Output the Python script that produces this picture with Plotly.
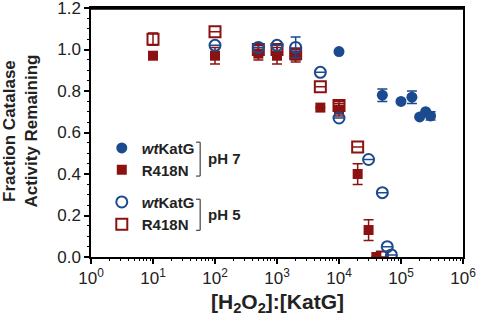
import plotly.graph_objects as go

BLUE = "#1B4A8E"
RED = "#8C1212"

# wtKatG pH 7 (filled circles)
wt7_x = [1e4, 5e4, 1e5, 1.5e5, 2e5, 2.5e5, 3e5]
wt7_y = [0.99, 0.78, 0.75, 0.77, 0.675, 0.70, 0.68]
wt7_e = [0.0, 0.03, 0.0, 0.03, 0.0, 0.0, 0.02]

# R418N pH 7 (filled squares)
r7_x = [10, 100, 500, 1000, 2000, 5000, 1e4, 2e4, 3e4, 4e4]
r7_y = [0.97, 0.97, 0.98, 0.97, 0.97, 0.72, 0.71, 0.40, 0.13, 0.0]
r7_e = [0.0, 0.04, 0.03, 0.04, 0.03, 0.0, 0.03, 0.05, 0.05, 0.0]

# wtKatG pH 5 (open circles)
wt5_x = [100, 500, 1000, 2000, 5000, 1e4, 3e4, 5e4, 6e4, 7e4]
wt5_y = [1.02, 1.01, 1.02, 1.01, 0.89, 0.67, 0.47, 0.31, 0.05, 0.01]
wt5_e = [0.0, 0.0, 0.0, 0.05, 0.0, 0.0, 0.0, 0.0, 0.0, 0.0]

# R418N pH 5 (open squares)
r5_x = [10, 100, 500, 1000, 2000, 5000, 1e4, 2e4, 5e4]
r5_y = [1.05, 1.085, 1.0, 1.0, 0.98, 0.82, 0.73, 0.53, 0.0]
r5_e = [0.03, 0.0, 0.02, 0.02, 0.02, 0.0, 0.02, 0.0, 0.0]

x_tickvals = [1, 10, 100, 1000, 1e4, 1e5, 1e6]
x_ticktext = ["10<sup>0</sup>", "10<sup>1</sup>", "10<sup>2</sup>", "10<sup>3</sup>",
              "10<sup>4</sup>", "10<sup>5</sup>", "10<sup>6</sup>"]
x_minor = [m * 10 ** d for d in range(0, 6) for m in range(2, 10)]
y_tickvals = [0.0, 0.2, 0.4, 0.6, 0.8, 1.0, 1.2]
y_ticktext = ["0.0", "0.2", "0.4", "0.6", "0.8", "1.0", "1.2"]

fig = go.Figure()

def err(e, color):
    return dict(type="data", array=e, visible=True, color=color, thickness=1.5, width=5)

fig.add_trace(go.Scatter(x=r7_x, y=r7_y, mode="markers", name="<b>R418N</b>", legend="legend2",
                         marker=dict(symbol="square", size=10, color=RED),
                         error_y=err(r7_e, RED)))
fig.add_trace(go.Scatter(x=r5_x, y=r5_y, mode="markers", name="<b>R418N</b>", legend="legend4",
                         marker=dict(symbol="square-open", size=11, color=RED, line=dict(width=2, color=RED)),
                         error_y=err(r5_e, RED)))
fig.add_trace(go.Scatter(x=wt5_x, y=wt5_y, mode="markers", name="<b><i>wt</i>KatG</b>", legend="legend3",
                         marker=dict(symbol="circle-open", size=11, color=BLUE, line=dict(width=2, color=BLUE)),
                         error_y=err(wt5_e, BLUE)))
fig.add_trace(go.Scatter(x=wt7_x, y=wt7_y, mode="markers", name="<b><i>wt</i>KatG</b>", legend="legend",
                         marker=dict(symbol="circle", size=11, color=BLUE),
                         error_y=err(wt7_e, BLUE)))

font = "Liberation Sans, Arial, sans-serif"

def leg(y):
    return dict(x=0.029, y=y, xanchor="left", yanchor="middle", bgcolor="rgba(0,0,0,0)",
                font=dict(family=font, size=15, color="#222"), borderwidth=0)

fig.update_layout(
    width=477, height=319,
    margin=dict(l=91, r=14, t=8, b=62),
    paper_bgcolor="white", plot_bgcolor="white",
    showlegend=True,
    legend=leg(0.437), legend2=leg(0.349), legend3=leg(0.220), legend4=leg(0.131),
    font=dict(family=font, color="#222"),
)

fig.update_xaxes(type="log", range=[0, 6], showgrid=False, zeroline=False, automargin=False,
                 showline=True, linecolor="black", linewidth=1.5, mirror=True,
                 ticks="outside", ticklen=5, tickwidth=1.5, tickcolor="black",
                 tickvals=x_tickvals, ticktext=x_ticktext, ticklabeloverflow="allow",
                 tickfont=dict(size=17, family=font, color="#222"),
                 minor=dict(tickvals=x_minor, ticks="outside", ticklen=2.5, tickwidth=1, tickcolor="black"))
fig.update_yaxes(range=[0, 1.2], showgrid=False, zeroline=False, automargin=False,
                 showline=True, linecolor="black", linewidth=1.5, mirror=True,
                 ticks="outside", ticklen=5, tickwidth=1.5, tickcolor="black",
                 tickvals=y_tickvals, ticktext=y_ticktext, ticklabeloverflow="allow",
                 tickfont=dict(size=17, family=font, color="#222"),
                 minor=dict(dtick=0.05, tick0=0, ticks="outside", ticklen=2.5, tickwidth=1, tickcolor="black"))

# top edge of the frame
fig.add_shape(type="line", xref="paper", yref="paper", x0=0, y0=0.997, x1=1, y1=0.997,
              line=dict(color="black", width=2), layer="above")

# axis titles
fig.add_annotation(xref="paper", yref="paper", x=0.5, y=-0.185, xanchor="center", yanchor="middle",
                   text="<b>[H<sub>2</sub>O<sub>2</sub>]:[KatG]</b>", showarrow=False,
                   font=dict(size=21, family=font, color="#222"))
fig.add_annotation(xref="paper", yref="paper", x=-0.190, y=0.505, xanchor="center", yanchor="middle",
                   text="<b>Fraction Catalase<br>Activity Remaining</b>", showarrow=False, textangle=-90,
                   font=dict(size=17, family=font, color="#222"))

# brackets grouping legend entries by pH
def bracket(y0, y1):
    xr = 0.2935
    xl = xr - 0.011
    for (a, b, c, d) in [(xr, y0, xr, y1), (xl, y0, xr, y0), (xl, y1, xr, y1)]:
        fig.add_shape(type="line", xref="paper", yref="paper", x0=a, y0=b, x1=c, y1=d,
                      line=dict(color="#444", width=1.2))

bracket(0.461, 0.325)
bracket(0.232, 0.107)
fig.add_annotation(xref="paper", yref="paper", x=0.309, y=0.395, xanchor="left", yanchor="middle",
                   text="<b>pH 7</b>", showarrow=False, font=dict(size=15, family=font, color="#222"))
fig.add_annotation(xref="paper", yref="paper", x=0.309, y=0.170, xanchor="left", yanchor="middle",
                   text="<b>pH 5</b>", showarrow=False, font=dict(size=15, family=font, color="#222"))

fig.write_html("out.html", config={"displayModeBar": False},
               post_script="document.body.style.margin='0px';")
